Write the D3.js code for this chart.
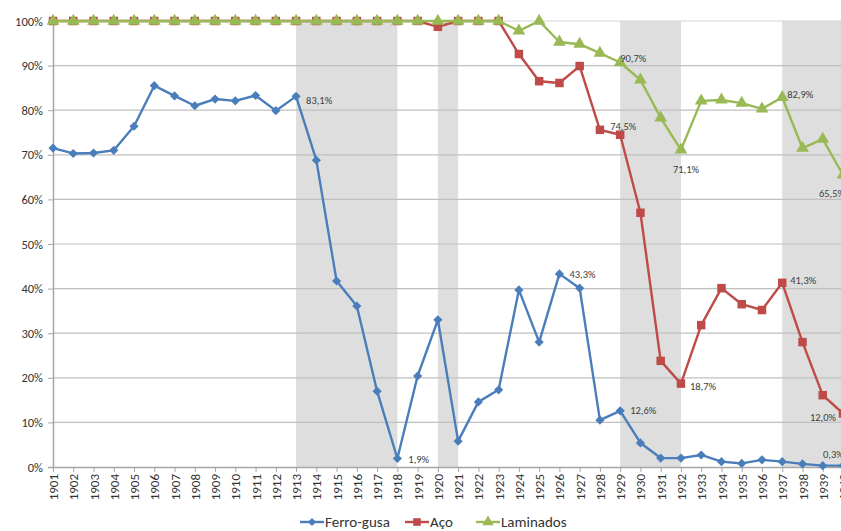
<!DOCTYPE html>
<html><head><meta charset="utf-8">
<script src="https://cdn.jsdelivr.net/npm/d3@7"></script>
<style>
html,body{margin:0;padding:0;background:#fff;overflow:hidden;width:841px;height:531px}
text{font-family:Calibri,Carlito,"Open Sans","Liberation Sans",Arial,sans-serif}
</style></head><body>
<div id="chart"></div>
<script>
const years = d3.range(1901, 1941).map(String);
const ferroGusa = [71.5,70.3,70.4,71.0,76.4,85.5,83.2,81.0,82.5,82.1,83.3,79.9,83.1,68.8,41.7,36.1,17.0,1.9,20.4,33.0,
  5.8,14.6,17.3,39.7,28.0,43.3,40.1,10.5,12.6,5.4,2.0,2.0,2.7,1.2,0.8,1.6,1.2,0.7,0.3,0.3];
const aco = [100,100,100,100,100,100,100,100,100,100,100,100,100,100,100,100,100,100,100,98.7,
  100,100,100,92.6,86.5,86.1,89.9,75.6,74.5,57.0,23.8,18.7,31.8,40.1,36.5,35.2,41.3,28.0,16.1,12.0];
const laminados = [100,100,100,100,100,100,100,100,100,100,100,100,100,100,100,100,100,100,100,100,
  100,100,100,97.8,100,95.3,94.8,92.8,90.7,86.8,78.3,71.1,82.1,82.3,81.6,80.3,82.9,71.5,73.5,65.5];
const yTicks = [0,10,20,30,40,50,60,70,80,90,100];
const shadedPeriods = [["1913","1918"],["1920","1921"],["1929","1932"],["1937","1940"]];
const seriesNames = ["Ferro-gusa","Aço","Laminados"];
// labels: [seriesIndex, year, text, dx, dy, anchor]
const pointLabels = [
  [0,"1913","83,1%",10,4,"start"],
  [0,"1918","1,9%",11,1,"start"],
  [0,"1926","43,3%",10,0,"start"],
  [0,"1929","12,6%",10,0,"start"],
  [0,"1940","0,3%",-20,-11,"start"],
  [1,"1929","74,5%",-10,-8,"start"],
  [1,"1932","18,7%",9,3,"start"],
  [1,"1937","41,3%",8,-2,"start"],
  [1,"1940","12,0%",-7,4,"end"],
  [2,"1929","90,7%",0,-4,"start"],
  [2,"1932","71,1%",5,19,"middle"],
  [2,"1937","82,9%",5,-3,"start"],
  [2,"1940","65,5%",2,18,"end"]
];

const colors = ["#4a7ebb","#be4b48","#98b954"];
const data = [ferroGusa, aco, laminados];

const W = 900, H = 531;
const svg = d3.select("#chart").append("svg").attr("width",W).attr("height",H);

const x = d3.scalePoint().domain(years).range([53, 843]);
const y = d3.scaleLinear().domain([0,100]).range([467, 21]);

// shaded periods
svg.append("g").selectAll("rect").data(shadedPeriods).join("rect")
  .attr("x", d => x(d[0]))
  .attr("width", d => x(d[1]) - x(d[0]) + (d[1]==="1940" ? 60 : 0))
  .attr("y", y(100)).attr("height", y(0)-y(100))
  .attr("fill", "#dedede");

// gridlines
svg.append("g").selectAll("line").data(yTicks.filter(t=>t>0)).join("line")
  .attr("x1", 53).attr("x2", W)
  .attr("y1", d=>y(d)).attr("y2", d=>y(d))
  .attr("stroke", d => d===100 ? "#d4d4d4" : "#c0c0c0").attr("stroke-width", 1.2);

// y axis
const yAxis = svg.append("g").attr("transform","translate(53,0)")
  .call(d3.axisLeft(y).tickValues(yTicks).tickSize(5).tickFormat(d=>d+"%"));
yAxis.select(".domain").attr("stroke","#a6a6a6").attr("stroke-width",1.5);
yAxis.selectAll(".tick line").attr("stroke","#a6a6a6");
yAxis.selectAll("text").attr("font-size","12.5px").attr("fill","#333").attr("dx","-2");

// x axis
const xAxis = svg.append("g").attr("transform","translate(0,467)")
  .call(d3.axisBottom(x).tickSize(5).tickSizeOuter(0));
xAxis.select(".domain").attr("stroke","#a6a6a6").attr("stroke-width",1.5);
xAxis.selectAll(".tick line").attr("stroke","#a6a6a6");
xAxis.selectAll("text")
  .attr("font-size","13px").attr("fill","#333")
  .attr("transform","rotate(-90)")
  .attr("text-anchor","end")
  .attr("x",-7).attr("y",0).attr("dy","0.35em");

// lines and markers
const line = d3.line().x((d,i)=>x(years[i])).y(d=>y(d));
const symbols = [d3.symbolSquare, d3.symbolSquare, d3.symbolTriangle];
const sizes = [42, 72, 70];
const rot = [" rotate(45)", "", ""];

data.forEach((vals, si) => {
  const g = svg.append("g");
  g.append("path").datum(vals).attr("d", line)
    .attr("fill","none").attr("stroke",colors[si]).attr("stroke-width",2.4)
    .attr("stroke-linejoin","round");
  g.selectAll("path.m").data(vals).join("path").attr("class","m")
    .attr("transform",(d,i)=>`translate(${x(years[i])},${y(d)})${rot[si]}`)
    .attr("d", d3.symbol().type(symbols[si]).size(sizes[si]))
    .attr("fill", colors[si]);
});

// labels
svg.append("g").selectAll("text").data(pointLabels).join("text")
  .attr("x", d => x(d[1]) + d[3])
  .attr("y", d => y(data[d[0]][years.indexOf(d[1])]) + d[4])
  .attr("text-anchor", d => d[5])
  .attr("dy","0.35em")
  .attr("font-size","10.5px").attr("fill","#404040")
  .text(d => d[2]);

// legend
const legendX = [300, 405, 476];
const lg = svg.append("g").attr("transform","translate(0,522)");
seriesNames.forEach((name, si) => {
  const gx = legendX[si];
  lg.append("line").attr("x1",gx).attr("x2",gx+24).attr("y1",0).attr("y2",0)
    .attr("stroke",colors[si]).attr("stroke-width",2.4);
  lg.append("path").attr("transform",`translate(${gx+12},0)${rot[si]}`)
    .attr("d", d3.symbol().type(symbols[si]).size(sizes[si]*0.8)).attr("fill",colors[si]);
  lg.append("text").attr("x",gx+25).attr("y",0).attr("dy","0.35em")
    .attr("font-size","15px").attr("fill","#333").text(name);
});
</script>
</body></html>
